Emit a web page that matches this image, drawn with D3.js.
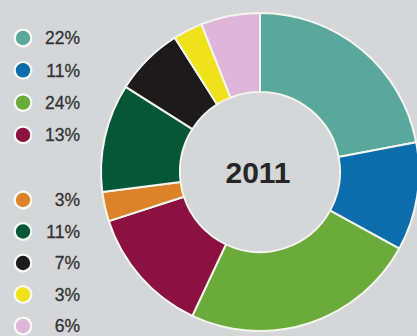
<!DOCTYPE html>
<html>
<head>
<meta charset="utf-8">
<script src="https://cdn.jsdelivr.net/npm/d3@7"></script>
<style>
  html, body { margin: 0; padding: 0; background: #d5d6d8; }
  svg { display: block; }
</style>
</head>
<body>
<svg id="chart" width="417" height="336"></svg>
<script>
// Share of each segment in 2011, clockwise from twelve o'clock
const segments = ["a", "b", "c", "d", "e", "f", "g", "h", "i"];
const shares = [22, 11, 24, 13, 3, 11, 7, 3, 6];
const colors = ["#5aa79c", "#0b6dab", "#6aab3c", "#8c1040", "#dc8228", "#06573a", "#1c1a1b", "#f0e21a", "#ddb6da"];
const centerLabel = "2011";
// Legend is split into two groups: first four, then the remaining five
const legendGroups = [[0, 1, 2, 3], [4, 5, 6, 7, 8]];

const svg = d3.select("#chart");
const W = 417, H = 336;

svg.append("rect").attr("width", W).attr("height", H).attr("fill", "#d5d6d8");

const defs = svg.append("defs");
const glow = defs.append("filter").attr("id", "halo")
  .attr("x", "-50%").attr("y", "-50%").attr("width", "200%").attr("height", "200%");
glow.append("feGaussianBlur").attr("stdDeviation", 0.7);

// Donut
const cx = 260, cy = 172, rOuter = 159, rInner = 80;
const pie = d3.pie().sort(null).value(d => d.v);
const arc = d3.arc().innerRadius(rInner).outerRadius(rOuter);
const data = segments.map((s, i) => ({ key: s, v: shares[i], color: colors[i] }));

const g = svg.append("g").attr("transform", `translate(${cx},${cy})`);
g.selectAll("path.slice")
  .data(pie(data))
  .join("path")
  .attr("class", "slice")
  .attr("d", arc)
  .attr("fill", d => d.data.color)
  .attr("stroke", "#f4f6ee")
  .attr("stroke-width", 2)
  .attr("stroke-linejoin", "round");

g.append("circle").attr("r", rInner - 1).attr("fill", "#d5d6d8");

g.append("text")
  .attr("text-anchor", "middle")
  .attr("dy", "0.36em")
  .attr("x", -2)
  .attr("font-family", "Liberation Sans, Arial, sans-serif")
  .attr("font-weight", "bold")
  .attr("font-size", 30)
  .attr("fill", "#262626")
  .text(centerLabel);

// Legend
const groupStart = [38, 200];
const step = [32.3, 31.5];
const legend = svg.append("g");
legendGroups.forEach((idxs, gi) => {
  const y = d3.scalePoint()
    .domain(idxs)
    .range([groupStart[gi], groupStart[gi] + step[gi] * (idxs.length - 1)]);
  idxs.forEach(i => {
    const row = legend.append("g").attr("transform", `translate(0,${y(i)})`);
    row.append("circle").attr("cx", 23).attr("r", 9.4)
      .attr("fill", "#f8faf4").attr("filter", "url(#halo)");
    row.append("circle").attr("cx", 23).attr("r", 7.2).attr("fill", colors[i]);
    row.append("text")
      .attr("x", 80)
      .attr("dy", "0.36em")
      .attr("text-anchor", "end")
      .attr("font-family", "Liberation Sans, Arial, sans-serif")
      .attr("font-size", 17.5)
      .attr("fill", "#333335")
      .attr("stroke", "#333335")
      .attr("stroke-width", 0.3)
      .text(shares[i] + "%");
  });
});
</script>
</body>
</html>
